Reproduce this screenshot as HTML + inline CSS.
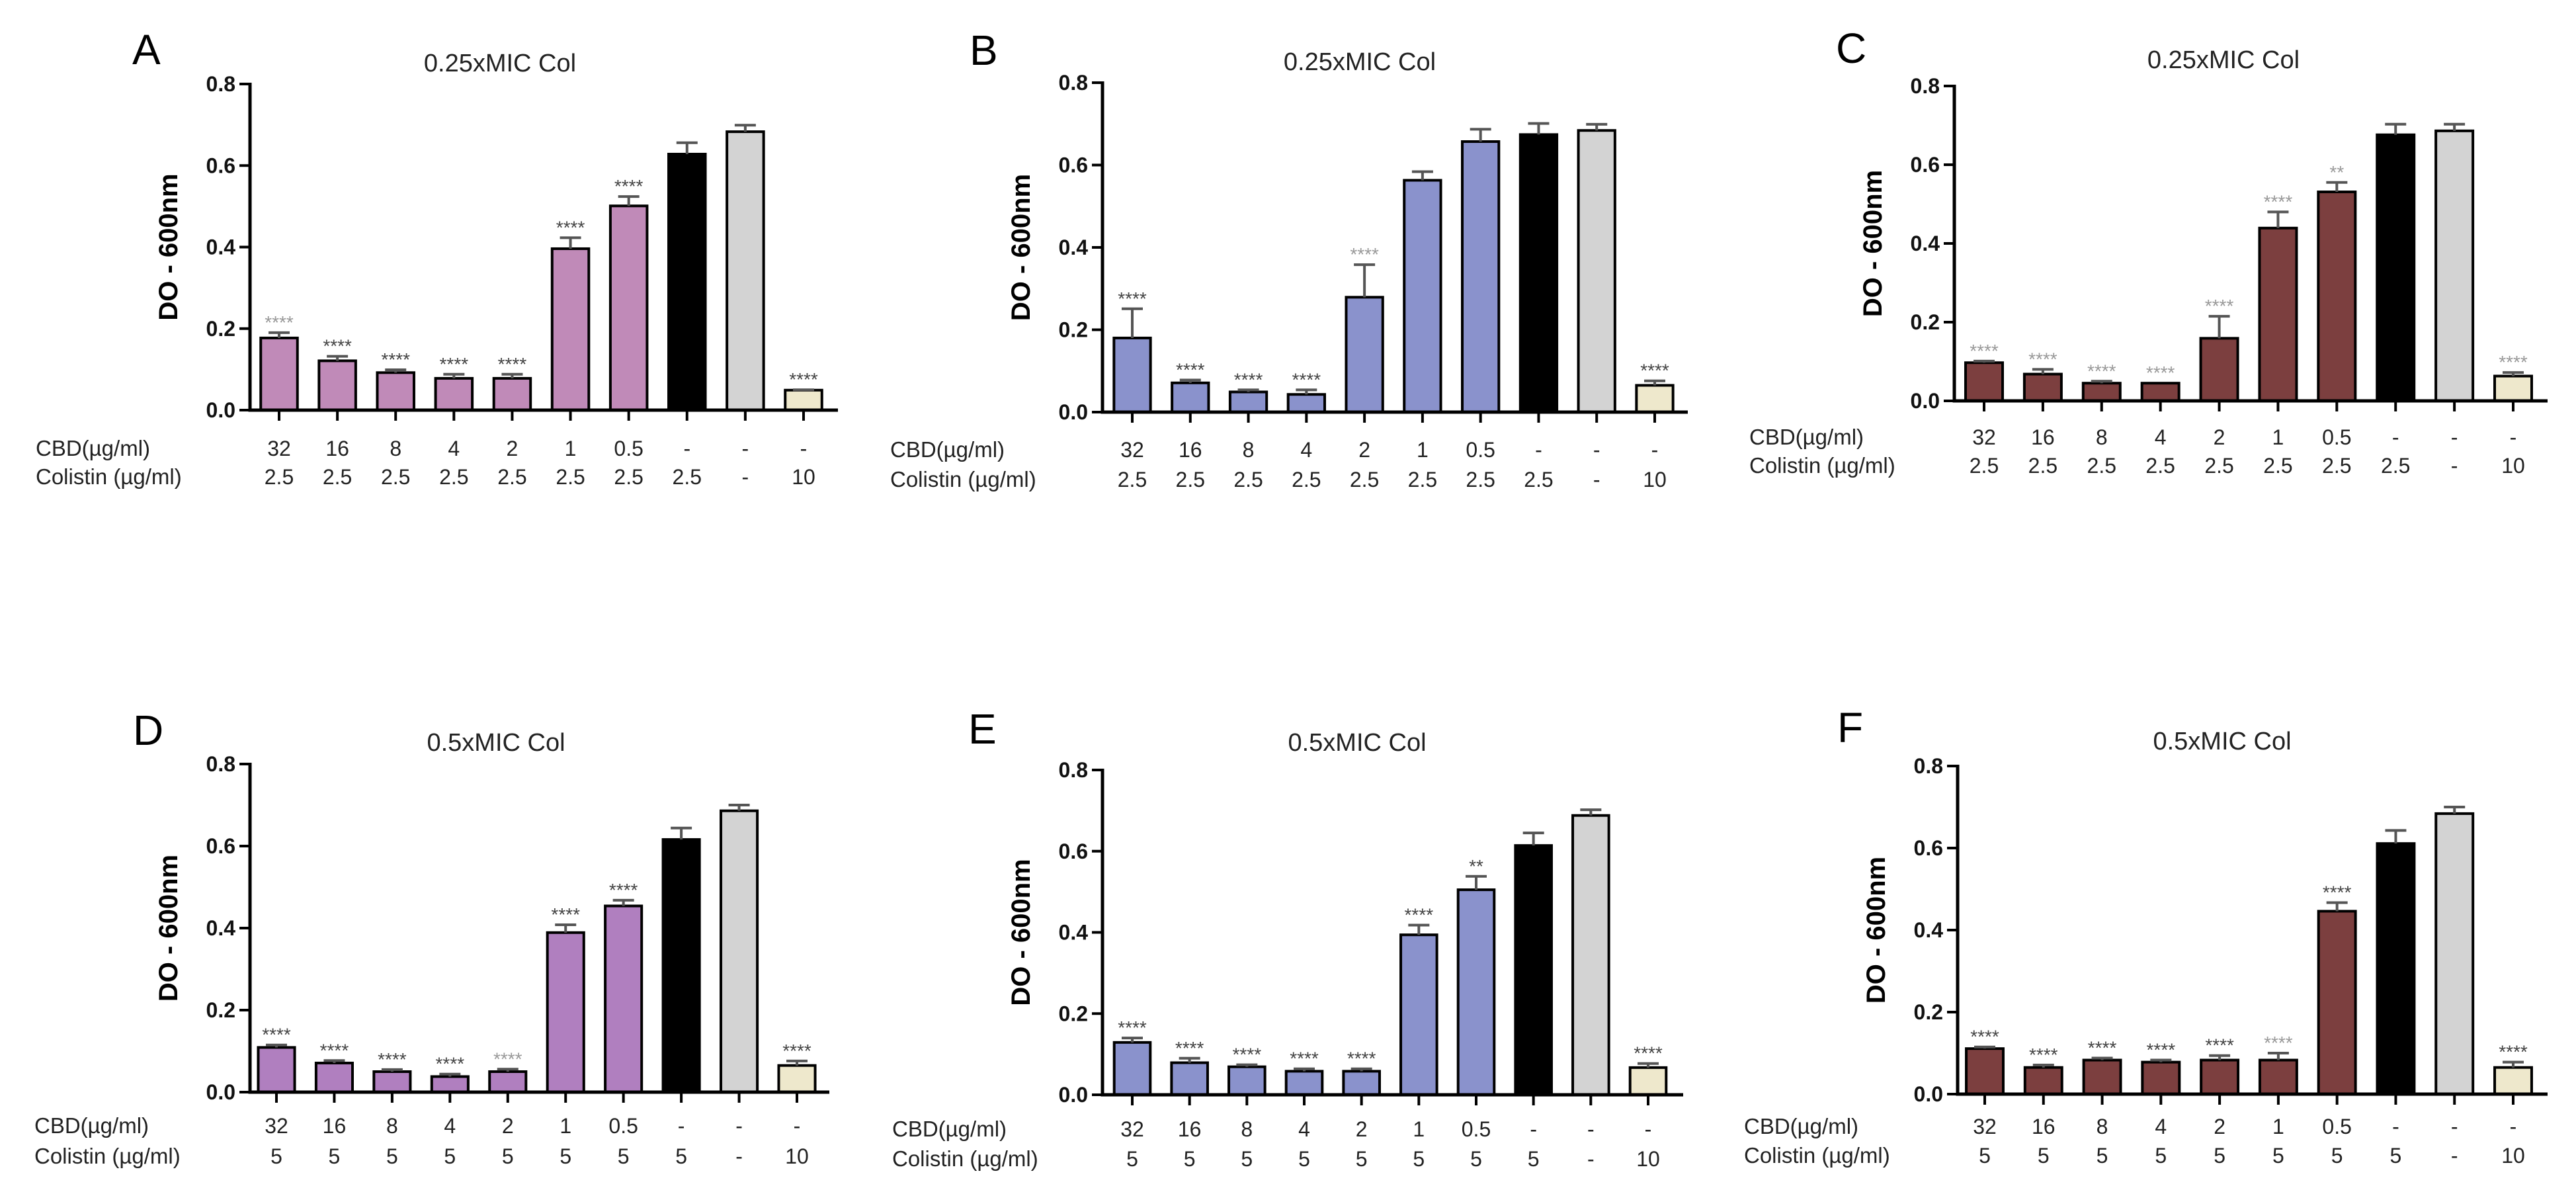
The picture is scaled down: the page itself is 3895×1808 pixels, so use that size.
<!DOCTYPE html>
<html><head><meta charset="utf-8"><style>
html,body{margin:0;padding:0;background:#fff}
svg{display:block}
</style></head><body>
<svg id="fig" xmlns="http://www.w3.org/2000/svg" width="3895" height="1808" viewBox="0 0 3895 1808"></svg>
<script>
// data
const cbdLabels = ["32","16","8","4","2","1","0.5","-","-","-"];
const colLabelsTop = ["2.5","2.5","2.5","2.5","2.5","2.5","2.5","2.5","-","10"];
const colLabelsBottom = ["5","5","5","5","5","5","5","5","-","10"];
const yTicks = [0,0.2,0.4,0.6,0.8];
const yTickLabels = ["0.0","0.2","0.4","0.6","0.8"];
const valuesA = [0.177,0.121,0.092,0.078,0.078,0.396,0.501,0.628,0.683,0.049];
const errorsA = [0.190,0.132,0.099,0.088,0.088,0.423,0.524,0.656,0.699,0.050];
const starsA = ["****","****","****","****","****","****","****","","","****"];
const valuesB = [0.180,0.071,0.049,0.043,0.279,0.563,0.657,0.674,0.684,0.065];
const errorsB = [0.251,0.078,0.054,0.054,0.358,0.584,0.687,0.701,0.699,0.076];
const starsB = ["****","****","****","****","****","","","","","****"];
const valuesC = [0.097,0.068,0.045,0.045,0.159,0.439,0.531,0.676,0.686,0.063];
const errorsC = [0.101,0.080,0.050,0.045,0.215,0.480,0.555,0.703,0.703,0.072];
const starsC = ["****","****","****","****","****","****","**","","","****"];
const valuesD = [0.109,0.071,0.050,0.038,0.050,0.389,0.454,0.616,0.686,0.065];
const errorsD = [0.115,0.077,0.055,0.044,0.056,0.408,0.468,0.644,0.700,0.076];
const starsD = ["****","****","****","****","****","****","****","","","****"];
const valuesE = [0.129,0.079,0.069,0.058,0.058,0.394,0.505,0.614,0.688,0.067];
const errorsE = [0.140,0.090,0.074,0.064,0.064,0.418,0.538,0.645,0.702,0.077];
const starsE = ["****","****","****","****","****","****","**","","","****"];
const valuesF = [0.111,0.065,0.083,0.078,0.083,0.083,0.446,0.611,0.684,0.065];
const errorsF = [0.115,0.071,0.088,0.083,0.094,0.100,0.467,0.643,0.700,0.078];
const starsF = ["****","****","****","****","****","****","****","","","****"];

const NS="http://www.w3.org/2000/svg";
const svg=document.getElementById('fig');
function mk(tag,attrs,parent){const e=document.createElementNS(NS,tag);for(const k in attrs)e.setAttribute(k,attrs[k]);(parent||svg).appendChild(e);return e;}

const panels=[
 {id:'a',L:'A',title:'0.25xMIC Col',ax:378,y0:620,y8:127,t0:422,t9:1215,end:1267,tx:756,ty:108,lx:200,ly:97,labx:54,r1:677,r2:720,col:'#C08AB8',v:valuesA,e:errorsA,s:starsA,cl:colLabelsTop,light:[0]},
 {id:'b',L:'B',title:'0.25xMIC Col',ax:1667,y0:623,y8:125,t0:1712,t9:2502,end:2552,tx:2056,ty:106,lx:1466,ly:98,labx:1346,r1:679,r2:724,col:'#8A92CC',v:valuesB,e:errorsB,s:starsB,cl:colLabelsTop,light:[4]},
 {id:'c',L:'C',title:'0.25xMIC Col',ax:2955,y0:606,y8:130,t0:3000,t9:3800,end:3852,tx:3362,ty:103,lx:2776,ly:95,labx:2645,r1:660,r2:703,col:'#7C3F3F',v:valuesC,e:errorsC,s:starsC,cl:colLabelsTop,light:[0,1,2,3,4,5,6,9]},
 {id:'d',L:'D',title:'0.5xMIC Col',ax:378,y0:1651,y8:1155,t0:418,t9:1205,end:1254,tx:750,ty:1135,lx:201,ly:1126,labx:52,r1:1701,r2:1747,col:'#B07FBF',v:valuesD,e:errorsD,s:starsD,cl:colLabelsBottom,light:[4]},
 {id:'e',L:'E',title:'0.5xMIC Col',ax:1667,y0:1655,y8:1164,t0:1712,t9:2492,end:2545,tx:2052,ty:1135,lx:1464,ly:1124,labx:1349,r1:1706,r2:1751,col:'#8A92CC',v:valuesE,e:errorsE,s:starsE,cl:colLabelsBottom,light:[]},
 {id:'f',L:'F',title:'0.5xMIC Col',ax:2960,y0:1654,y8:1158,t0:3001,t9:3800,end:3852,tx:3360,ty:1133,lx:2778,ly:1122,labx:2637,r1:1702,r2:1746,col:'#7C3F3F',v:valuesF,e:errorsF,s:starsF,cl:colLabelsBottom,light:[5]}
];
const barFill=(p,i)=> i===7?'#000':i===8?'#D3D3D3':i===9?'#EEE8CC':p.col;
const F='"Liberation Sans", Arial, sans-serif';

panels.forEach(p=>{
  const g=mk('g',{});
  
  
  const y=v=>p.y0-(v/0.8)*(p.y0-p.y8);
  const pitch=(p.t9-p.t0)/9;
  const x=i=>p.t0+i*pitch;
  const bw=pitch*0.63;
  const lt=mk('text',{x:p.lx,y:p.ly,'font-family':'"Liberation Sans",sans-serif','font-size':64,fill:'#000'},g);
  lt.textContent=p.L;
  
  
  const tt=mk('text',{x:p.tx,y:p.ty,'font-family':F,'font-size':38,'text-anchor':'middle',fill:'#222'},g);
  tt.textContent=p.title;
  
  
  const yc=(p.y0+p.y8)/2, yx=p.ax-110;
  const yt=mk('text',{x:yx,y:yc,'font-family':F,'font-size':40,'font-weight':'bold','text-anchor':'middle',transform:`rotate(-90 ${yx} ${yc})`,fill:'#000'},g);
  yt.textContent='DO - 600nm';
  
  
  p.v.forEach((v,i)=>{
    const cx=x(i);
    const r=mk('rect',{x:cx-bw/2,y:y(v),width:bw,height:p.y0-y(v),fill:barFill(p,i),stroke:'#000','stroke-width':4},g);
    
    
    const ey=y(p.e[i]);
    if(p.e[i]>v){
      const el=mk('path',{d:`M${cx} ${y(v)}V${ey}M${cx-16} ${ey}H${cx+16}`,stroke:'#555','stroke-width':4,fill:'none'},g);
      
      
    }
    if(p.s[i]){
      const st=mk('text',{x:cx,y:ey-6,'font-family':F,'font-size':28,'text-anchor':'middle',fill:p.light.includes(i)?'#999':'#444'},g);
      st.textContent=p.s[i];
      
      
    }
    const tk=mk('line',{x1:cx,x2:cx,y1:p.y0,y2:p.y0+16,stroke:'#000','stroke-width':4},g);
    
    
    const c1=mk('text',{x:cx,y:p.r1+12,'font-family':F,'font-size':32,'text-anchor':'middle',fill:'#222'},g);
    c1.textContent=cbdLabels[i];
    
    
    const c2=mk('text',{x:cx,y:p.r2+12,'font-family':F,'font-size':32,'text-anchor':'middle',fill:'#222'},g);
    c2.textContent=p.cl[i];
    
    
  });
  const axl=mk('path',{d:`M${p.ax} ${p.y8-2}V${p.y0}H${p.end}`,stroke:'#000','stroke-width':5,fill:'none'},g);
  
  
  yTicks.forEach((t,k)=>{
    const ty=y(t);
    const l=mk('line',{x1:p.ax-16,x2:p.ax,y1:ty,y2:ty,stroke:'#000','stroke-width':4},g);
    
    
    const tl=mk('text',{x:p.ax-22,y:ty+11,'font-family':F,'font-size':32,'font-weight':'bold','text-anchor':'end',fill:'#111'},g);
    tl.textContent=yTickLabels[k];
    
    
  });
  const rl1=mk('text',{x:p.labx,y:p.r1+12,'font-family':F,'font-size':33,fill:'#222'},g);
  rl1.textContent='CBD(µg/ml)';
  
  
  const rl2=mk('text',{x:p.labx,y:p.r2+12,'font-family':F,'font-size':33,fill:'#222'},g);
  rl2.textContent='Colistin (µg/ml)';
  
  
});
</script>
</body></html>
